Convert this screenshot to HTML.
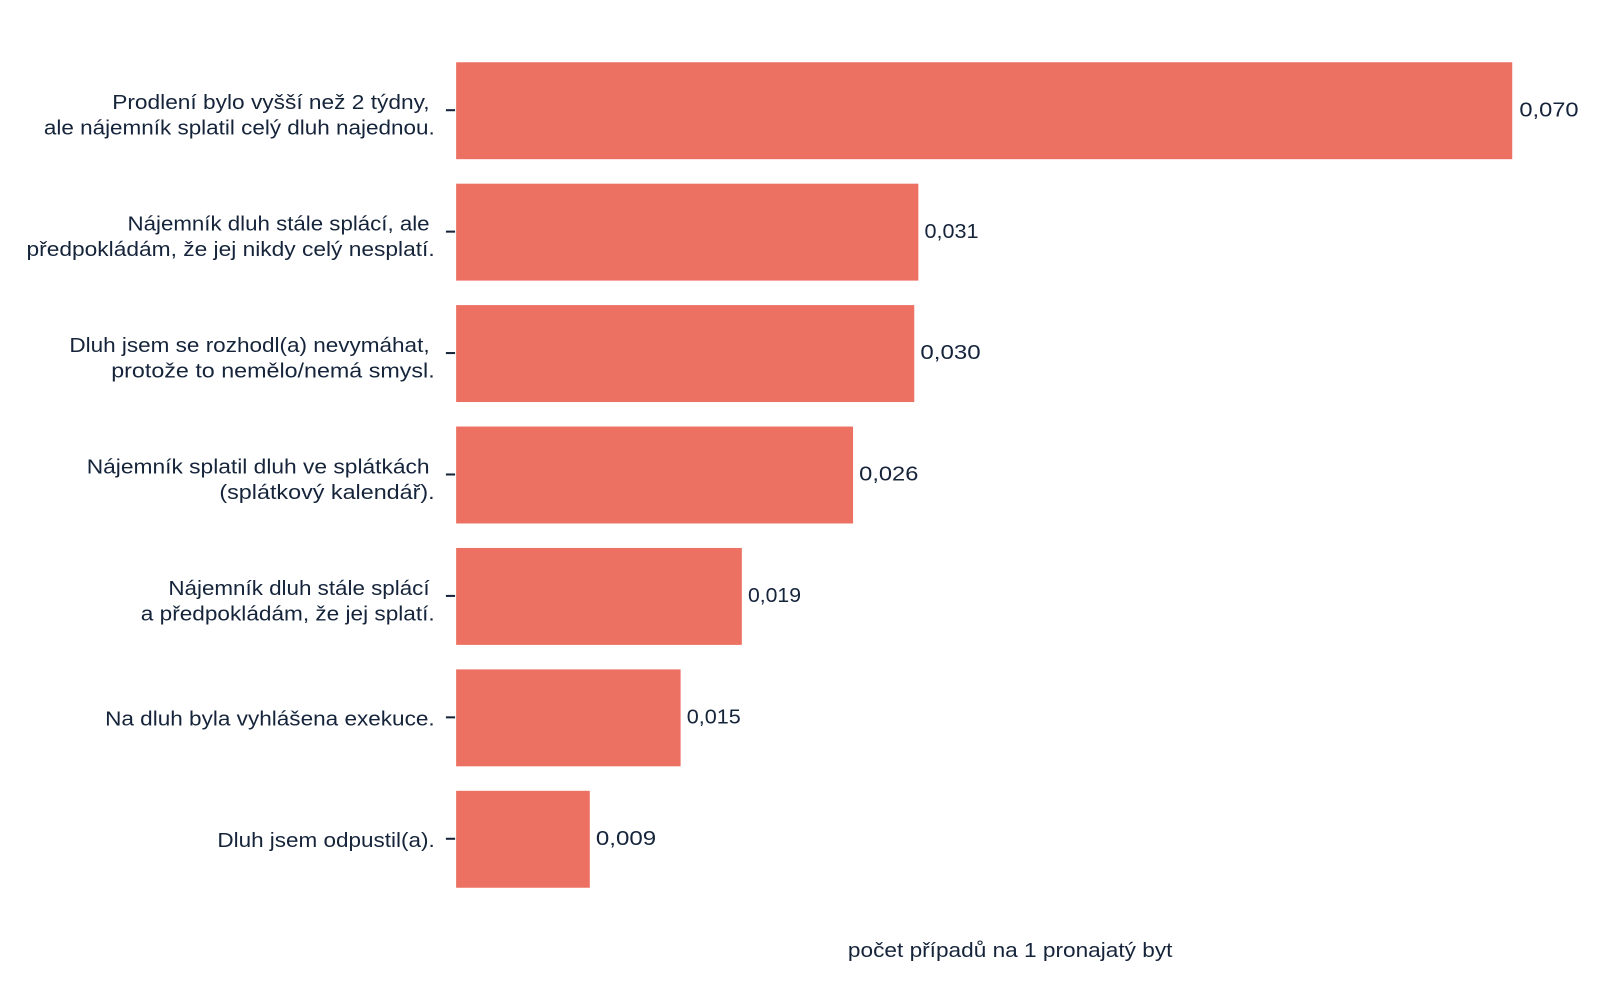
<!DOCTYPE html>
<html><head><meta charset="utf-8"><style>
body{margin:0;background:#fff;}
text{font-family:"Liberation Sans",sans-serif;fill:#15243a;font-size:20px;}
</style></head><body>
<svg width="1600" height="984" xmlns="http://www.w3.org/2000/svg">
<g transform="scale(1.0204)">
<g fill="#ec7163">
<rect x="447" y="61" width="1035" height="95"/>
<rect x="447" y="180" width="453" height="95"/>
<rect x="447" y="299" width="449" height="95"/>
<rect x="447" y="418" width="389" height="95"/>
<rect x="447" y="537" width="280" height="95"/>
<rect x="447" y="656" width="220" height="95"/>
<rect x="447" y="775" width="131" height="95"/>
</g>
<g stroke="#15243a" stroke-width="2">
<line x1="437" x2="446" y1="108" y2="108"/>
<line x1="437" x2="446" y1="227" y2="227"/>
<line x1="437" x2="446" y1="346" y2="346"/>
<line x1="437" x2="446" y1="465" y2="465"/>
<line x1="437" x2="446" y1="584" y2="584"/>
<line x1="437" x2="446" y1="703" y2="703"/>
<line x1="437" x2="446" y1="822" y2="822"/>
</g>
<g lengthAdjust="spacingAndGlyphs">
<text x="110" y="107" textLength="311" lengthAdjust="spacingAndGlyphs">Prodlení bylo vyšší než 2 týdny,</text>
<text x="43" y="132" textLength="383" lengthAdjust="spacingAndGlyphs">ale nájemník splatil celý dluh najednou.</text>
<text x="125" y="226" textLength="296" lengthAdjust="spacingAndGlyphs">Nájemník dluh stále splácí, ale</text>
<text x="26" y="251" textLength="400" lengthAdjust="spacingAndGlyphs">předpokládám, že jej nikdy celý nesplatí.</text>
<text x="68" y="345" textLength="353" lengthAdjust="spacingAndGlyphs">Dluh jsem se rozhodl(a) nevymáhat,</text>
<text x="109" y="370" textLength="317" lengthAdjust="spacingAndGlyphs">protože to nemělo/nemá smysl.</text>
<text x="85" y="464" textLength="336" lengthAdjust="spacingAndGlyphs">Nájemník splatil dluh ve splátkách</text>
<text x="215" y="489" textLength="211" lengthAdjust="spacingAndGlyphs">(splátkový kalendář).</text>
<text x="165" y="583" textLength="256" lengthAdjust="spacingAndGlyphs">Nájemník dluh stále splácí</text>
<text x="138" y="608" textLength="288" lengthAdjust="spacingAndGlyphs">a předpokládám, že jej splatí.</text>
<text x="103" y="711" textLength="323" lengthAdjust="spacingAndGlyphs">Na dluh byla vyhlášena exekuce.</text>
<text x="213" y="830" textLength="213" lengthAdjust="spacingAndGlyphs">Dluh jsem odpustil(a).</text>
<text x="1489" y="114" textLength="58" lengthAdjust="spacingAndGlyphs">0,070</text>
<text x="906" y="233" textLength="53" lengthAdjust="spacingAndGlyphs">0,031</text>
<text x="902" y="352" textLength="59" lengthAdjust="spacingAndGlyphs">0,030</text>
<text x="842" y="471" textLength="58" lengthAdjust="spacingAndGlyphs">0,026</text>
<text x="733" y="590" textLength="52" lengthAdjust="spacingAndGlyphs">0,019</text>
<text x="673" y="709" textLength="53" lengthAdjust="spacingAndGlyphs">0,015</text>
<text x="584" y="828" textLength="59" lengthAdjust="spacingAndGlyphs">0,009</text>
<text x="831" y="938" textLength="318" lengthAdjust="spacingAndGlyphs">počet případů na 1 pronajatý byt</text>
</g>
</g>
</svg>
</body></html>
